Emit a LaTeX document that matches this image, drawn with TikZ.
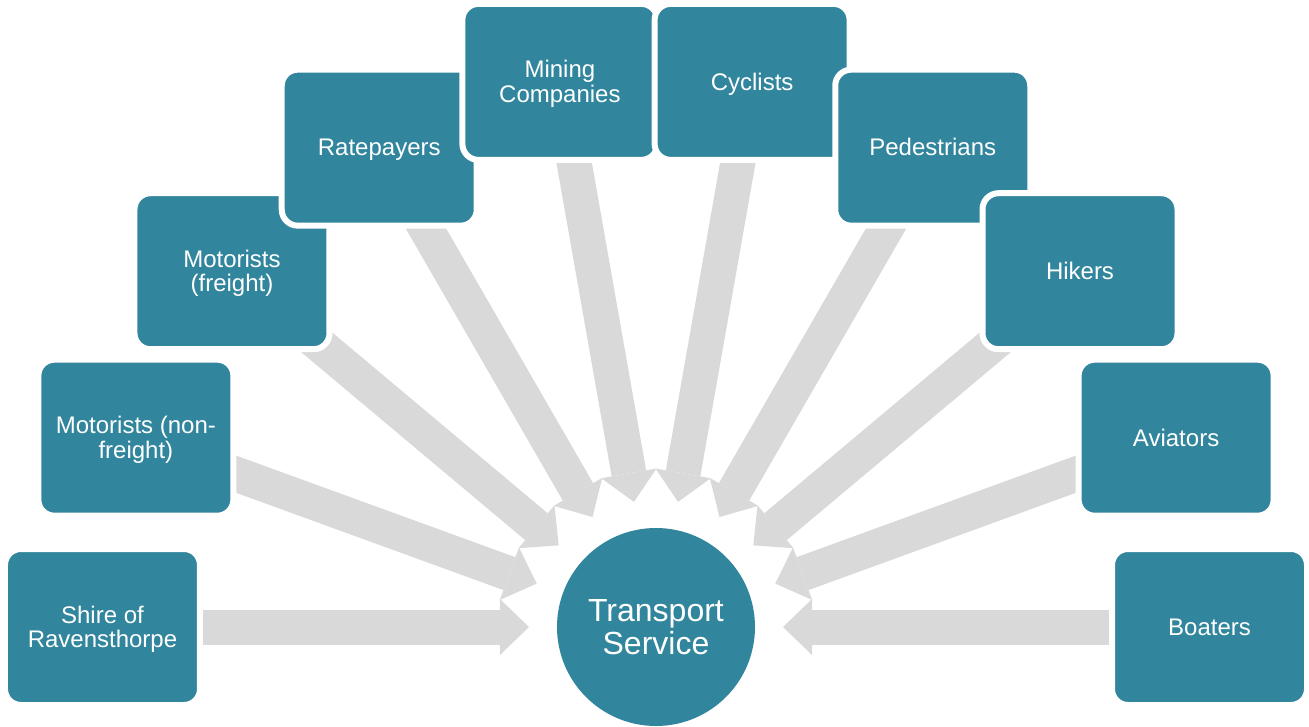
\documentclass[tikz,border=0pt]{standalone}
\usepackage{fontspec}
\setmainfont{Liberation Sans}
\usetikzlibrary{arrows.meta,backgrounds}
\definecolor{tealfill}{HTML}{31859C}
\definecolor{arrowgrey}{HTML}{D9D9D9}
% invisible struts giving the first line the font's ascent
% and the last line the font's descent
\newcommand{\ts}{\rule{0pt}{0.905em}}
\newcommand{\bs}{\rule[-0.212em]{0pt}{0.212em}}
\begin{document}
\begin{tikzpicture}[x=1pt,y=1pt,
  stakeholder/.style={draw=white, line width=6pt, fill=tealfill,
    rounded corners=16pt, minimum width=195pt, minimum height=156pt,
    inner sep=0pt, text=white, align=center,
    font=\fontsize{24}{24.5}\selectfont},
  hub/.style={circle, fill=tealfill, minimum size=198pt, inner sep=0pt,
    outer sep=0pt, text=white, align=center,
    font=\fontsize{32}{33}\selectfont},
  flow/.style={draw=arrowgrey, line width=35pt,
    -{Triangle[width=56pt,length=29pt,line width=0pt]}, shorten >=28pt}]
\useasboundingbox (-656,-99) rectangle (653,627);

% central service
\node[hub] (ts) at (0,0) {\ts Transport\\Service\bs};

% stakeholders on an arc, every 20 degrees
\node[stakeholder] (shire)   at (180:553.5) {\ts Shire of\\Ravensthorpe\bs};
\node[stakeholder] (motnf)   at (160:553.5) {\ts Motorists (non-\\freight)\bs};
\node[stakeholder] (motfr)   at (140:553.5) {\ts Motorists\\(freight)\bs};
\node[stakeholder] (rates)   at (120:553.5) {\ts Ratepayers\bs};
\node[stakeholder] (mining)  at (100:553.5) {\ts Mining\\Companies\bs};
\node[stakeholder] (cycl)    at (80:553.5)  {\ts Cyclists\bs};
\node[stakeholder] (pedes)   at (60:553.5)  {\ts Pedestrians\bs};
\node[stakeholder] (hikers)  at (40:553.5)  {\ts Hikers\bs};
\node[stakeholder] (aviat)   at (20:553.5)  {\ts Aviators\bs};
\node[stakeholder] (boaters) at (0:553.5)   {\ts Boaters\bs};

% converging block arrows behind the boxes
\begin{scope}[on background layer]
  \foreach \s in {shire,motnf,motfr,rates,mining,cycl,pedes,hikers,aviat,boaters}
    \draw[flow] (\s.center) -- (ts);
\end{scope}
\end{tikzpicture}
\end{document}
